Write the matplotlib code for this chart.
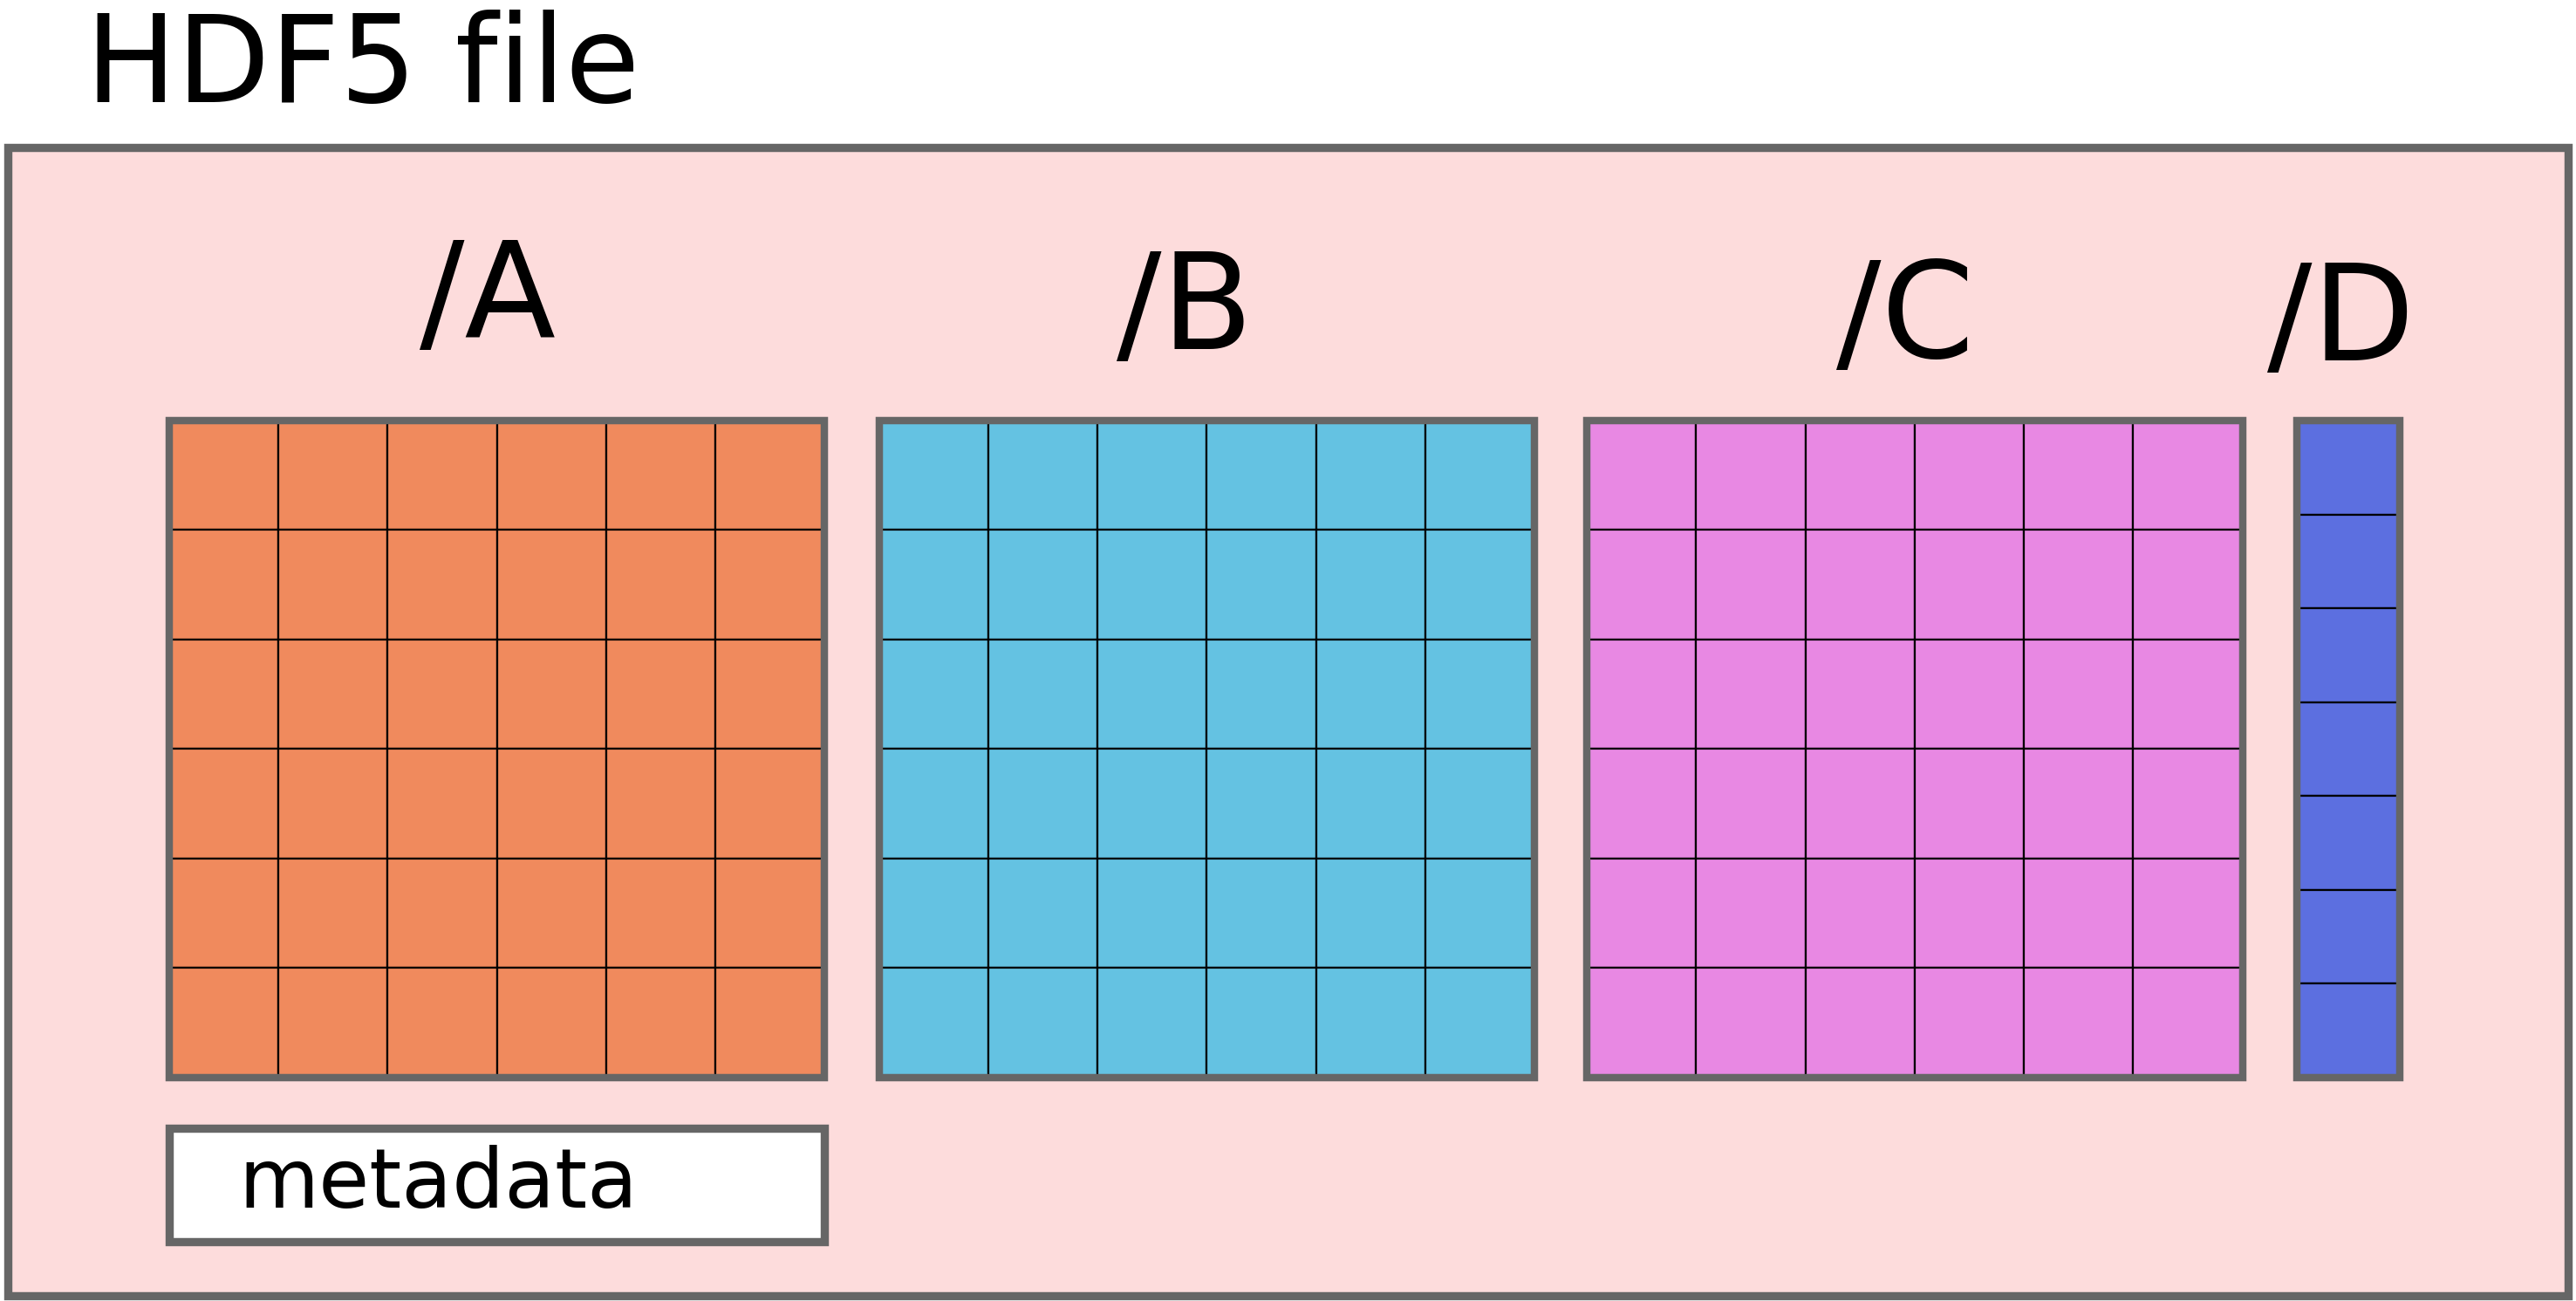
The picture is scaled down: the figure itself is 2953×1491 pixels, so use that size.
import matplotlib
matplotlib.use("Agg")
import matplotlib.pyplot as plt
from matplotlib.patches import Rectangle

title = "HDF5 file"
datasets = ["/A", "/B", "/C", "/D"]
colors = ["#F08A5D", "#64C2E2", "#E888E3", "#5C6FE0"]
n_cols = [6, 6, 6, 1]
n_rows = [6, 6, 6, 7]
x_left = [103, 535, 966, 1398]
widths = [399, 399, 399, 63]
label_pos = [(297, 183), (721, 190), (1160, 195), (1425, 197)]

fig = plt.figure(figsize=(29.53, 14.91), dpi=100)
ax = fig.add_axes([0, 0, 1, 1])
ax.set_xlim(0, 1568); ax.set_ylim(792, 0); ax.axis("off")
S = 1.883  # displayed px -> actual px
lw_thick = 5 * S * 0.72

ax.text(52, 62, title, fontsize=100, ha="left", va="baseline", family="DejaVu Sans")
ax.add_patch(Rectangle((5, 90), 1558, 699, facecolor="#FDDCDC", edgecolor="#666666", lw=lw_thick))

top, bot = 256, 656
for name, c, nc, nr, x0, w, (lx, ly) in zip(datasets, colors, n_cols, n_rows, x_left, widths, label_pos):
    h = bot - top
    cw, ch = w / nc, h / nr
    for i in range(nr):
        for j in range(nc):
            ax.add_patch(Rectangle((x0 + j * cw, top + i * ch), cw, ch, facecolor=c,
                                   edgecolor="black", lw=1.6))
    ax.add_patch(Rectangle((x0, top), w, h, facecolor="none", edgecolor="#666666", lw=lw_thick * 0.9))
    ax.text(lx, ly, name, fontsize=110, ha="center", va="center", family="DejaVu Sans")

ax.add_patch(Rectangle((103, 687), 399, 69, facecolor="white", edgecolor="#666666", lw=lw_thick))
ax.text(145, 721, "metadata", fontsize=68, ha="left", va="center", family="DejaVu Sans")

fig.savefig("out.png", dpi=100)
